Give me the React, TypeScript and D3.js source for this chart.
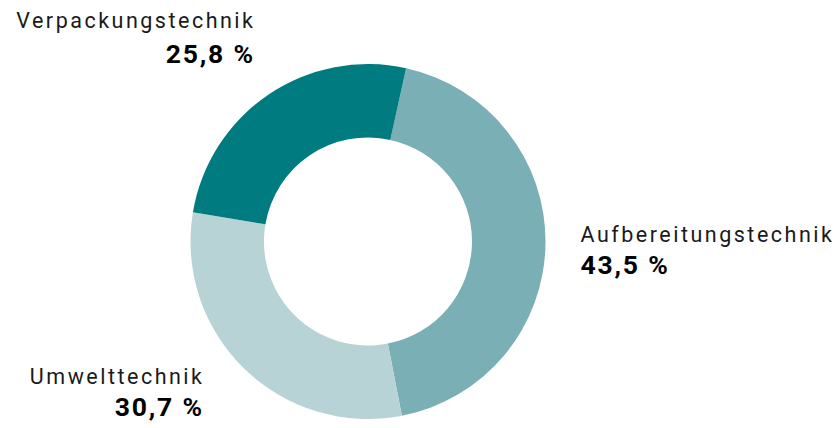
import React from "react";
import * as d3 from "d3";

const categories = ["Aufbereitungstechnik", "Umwelttechnik", "Verpackungstechnik"];
const values = [43.5, 30.7, 25.8];
const valueLabels = ["43,5 %", "30,7 %", "25,8 %"];
const colors = ["#7aafb5", "#b8d3d6", "#007b80"];

const W = 838, H = 428;
const cx = 368, cy = 241.5, rOuter = 177.5, rInner = 104;
const startDeg = 12.4;

const labelPos = [
  { x: 580.5, y: 242, y2: 273.5, anchor: "start" },
  { x: 204.5, y: 384, y2: 416, anchor: "end" },
  { x: 255.5, y: 28, y2: 63, anchor: "end" },
];

export default function App() {
  const pie = d3
    .pie<number>()
    .sort(null)
    .value((d) => d)
    .startAngle((startDeg * Math.PI) / 180)
    .endAngle((startDeg * Math.PI) / 180 + 2 * Math.PI);
  const arcs = pie(values);
  const arc = d3.arc<d3.PieArcDatum<number>>().innerRadius(rInner).outerRadius(rOuter);
  return (
    <svg width={W} height={H} style={{ position: "absolute", left: 0, top: 0 }}>
      <rect width={W} height={H} fill="#fff" />
      <g transform={`translate(${cx},${cy})`}>
        {arcs.map((a, i) => (
          <path key={i} d={arc(a) || ""} fill={colors[i]} />
        ))}
      </g>
      {categories.map((c, i) => (
        <g key={c}>
          <text
            x={labelPos[i].x}
            y={labelPos[i].y}
            textAnchor={labelPos[i].anchor as any}
            fontFamily="Roboto, sans-serif"
            fontSize={21.5}
            letterSpacing={2.5}
            fill="#1a1a1a"
          >
            {c}
          </text>
          <text
            x={labelPos[i].x - (labelPos[i].anchor === "end" ? 0.7 : 0)}
            y={labelPos[i].y2}
            textAnchor={labelPos[i].anchor as any}
            fontFamily="Roboto, sans-serif"
            fontWeight="bold"
            fontSize={26.5}
            letterSpacing={1.8}
            fill="#000"
          >
            {valueLabels[i]}
          </text>
        </g>
      ))}
    </svg>
  );
}
